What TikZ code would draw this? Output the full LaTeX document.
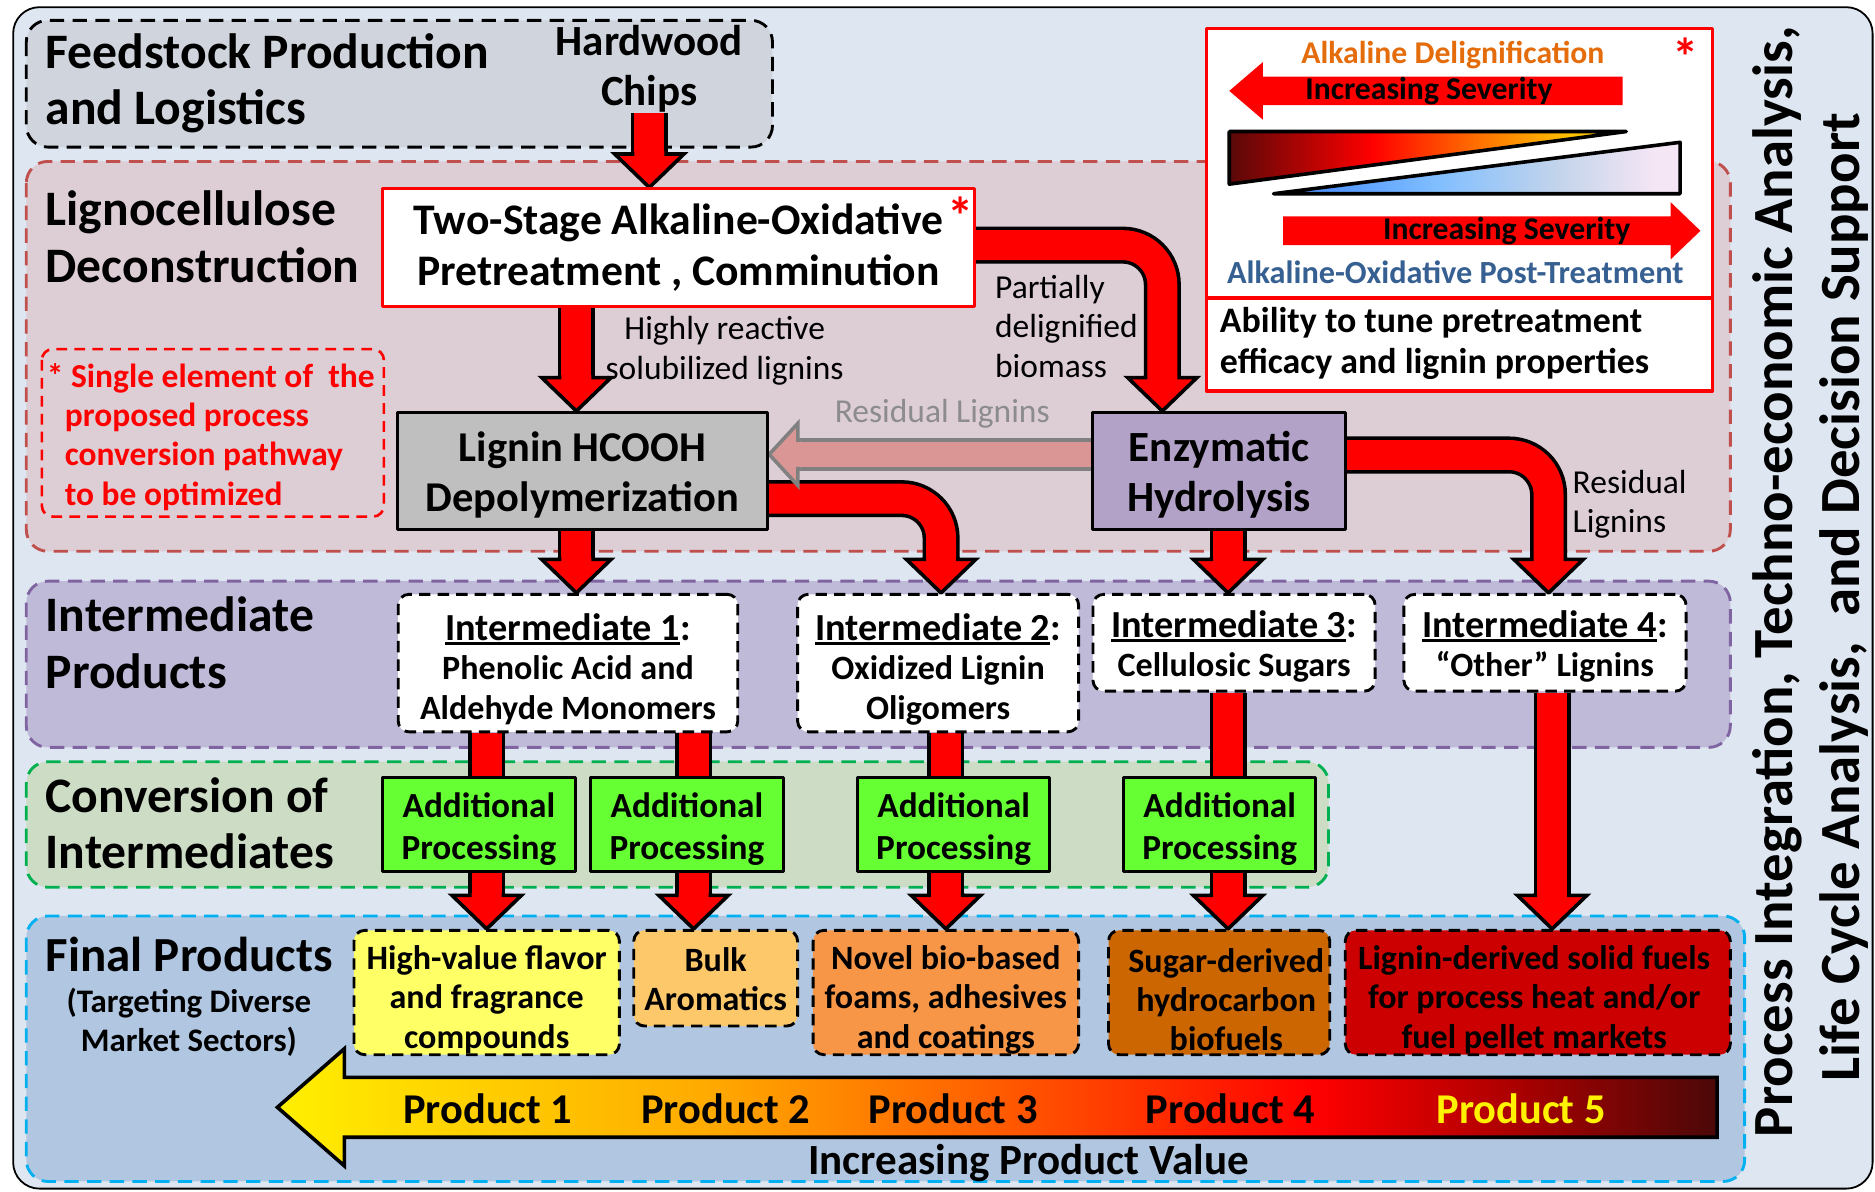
\documentclass[tikz,border=0pt]{standalone}
\usepackage{fontspec}
\setmainfont{Carlito}
\usetikzlibrary{calc}
\definecolor{bgc}{RGB}{222,231,241}
\definecolor{feedc}{RGB}{208,213,221}
\definecolor{lignc}{RGB}{221,205,213}
\definecolor{lignd}{RGB}{192,80,77}
\definecolor{intc}{RGB}{192,186,217}
\definecolor{intd}{RGB}{128,100,162}
\definecolor{convc}{RGB}{204,220,197}
\definecolor{convd}{RGB}{0,176,80}
\definecolor{finc}{RGB}{176,198,225}
\definecolor{find}{RGB}{0,176,240}
\definecolor{grayc}{RGB}{191,191,191}
\definecolor{purc}{RGB}{179,162,199}
\definecolor{apc}{RGB}{102,255,51}
\definecolor{pinkc}{RGB}{217,150,148}
\definecolor{grayd}{RGB}{128,128,128}
\definecolor{p1c}{RGB}{255,255,102}
\definecolor{p2c}{RGB}{252,200,106}
\definecolor{p3c}{RGB}{247,150,70}
\definecolor{p4c}{RGB}{204,102,0}
\definecolor{p5c}{RGB}{204,0,0}
\definecolor{orgt}{RGB}{228,108,10}
\definecolor{bluet}{RGB}{55,96,146}
\definecolor{labg}{RGB}{140,140,140}
% gradient colours
\definecolor{gY}{RGB}{255,240,0}
\definecolor{gY2}{RGB}{255,225,0}
\definecolor{gA}{RGB}{255,170,0}
\definecolor{gO}{RGB}{255,100,0}
\definecolor{gR}{RGB}{255,0,0}
\definecolor{gM}{RGB}{170,0,0}
\definecolor{gD}{RGB}{75,8,8}
\definecolor{tA}{RGB}{90,8,8}
\definecolor{tB}{RGB}{255,0,0}
\definecolor{tC}{RGB}{255,110,0}
\definecolor{tD}{RGB}{255,195,0}
\definecolor{uA}{RGB}{80,150,255}
\definecolor{uB}{RGB}{128,190,255}
\definecolor{uC}{RGB}{195,212,235}
\definecolor{uD}{RGB}{245,230,245}
\pgfdeclarehorizontalshading{prodgrad}{100bp}{color(0bp)=(gY); color(25bp)=(gY); color(28bp)=(gY2); color(40bp)=(gA); color(49bp)=(gO); color(61bp)=(gR); color(68bp)=(gM); color(75bp)=(gD); color(100bp)=(gD)}
\pgfdeclarehorizontalshading{trione}{100bp}{color(0bp)=(tA); color(25bp)=(tA); color(43bp)=(tB); color(56bp)=(tC); color(68bp)=(tD); color(100bp)=(tD)}
\pgfdeclarehorizontalshading{tritwo}{100bp}{color(0bp)=(uA); color(32bp)=(uA); color(45bp)=(uB); color(60bp)=(uC); color(72bp)=(uD); color(100bp)=(uD)}
\newcommand\fs[2]{\fontsize{#1pt}{#2pt}\selectfont}
\newsavebox\ulbox
\newcommand\ul[1]{\sbox\ulbox{#1}\rlap{\rule[-4pt]{\wd\ulbox}{2.2pt}}\usebox\ulbox}
\pgfdeclarelayer{back}
\pgfdeclarelayer{mid}
\pgfsetlayers{back,mid,main}
\tikzset{
 sec/.style={line width=2.4pt, dash pattern=on 12pt off 7pt, rounded corners=18pt},
 box/.style={draw=black, line width=2.5pt, align=center, inner sep=0pt},
 dbox/.style={draw=black, line width=2.4pt, dash pattern=on 9.5pt off 6pt, rounded corners=9pt, align=center, inner sep=0pt},
 tx/.style={align=center, inner sep=0pt},
 title/.style={anchor=west, align=left, inner sep=0pt, font=\fs{41.5}{47}\bfseries},
 lab/.style={align=center, inner sep=0pt, font=\fs{28}{33}},
 shaft/.style={draw=black, line width=3pt, double=red, double distance=25pt},
 head/.style={fill=red, draw=black, line width=3pt, line join=miter},
 prodlab/.style={inner sep=0pt, font=\fs{35.5}{40}\bfseries},
 aptext/.style={tx, font=\fs{29.5}{35}\bfseries},
 aptbox/.style={box, fill=apc, minimum width=161pt, minimum height=79pt},
 ptext/.style={tx, font=\fs{28.5}{33}\bfseries},
}
\newcommand\headat[1]{%
 \draw[head] ([shift={(-14pt,30pt)}]#1) -- ([shift={(-14pt,28pt)}]#1) -- ([shift={(-29pt,28pt)}]#1) -- (#1) -- ([shift={(29pt,28pt)}]#1) -- ([shift={(14pt,28pt)}]#1) -- ([shift={(14pt,30pt)}]#1);}
\newcommand\dnarrow[3]{%
 \path (#1,0 |- #3.north) coordinate (tip);
 \draw[shaft] (#1,0 |- #2.south) -- ([yshift=28pt]tip);
 \headat{tip}}
\newcommand\bararrow[3]{%
 \draw[shaft] (#1,0 |- #2.south) -- (#1,0 |- #3.north);}
\newcommand\curvarrow[4]{%
 \path (#3,0 |- #4.north) coordinate (tip);
 \draw[shaft, rounded corners=33pt] (#1.east |- 0,#2) -- (#3,#2) -- ([yshift=28pt]tip);
 \headat{tip}}
\begin{document}
\begin{tikzpicture}[x=1pt,y=-1pt,line join=round]
\useasboundingbox (0,0) rectangle (1568,996);
\begin{pgfonlayer}{back}
\fill[white] (0,0) rectangle (1568,996);
\draw[fill=bgc, line width=1.5pt, rounded corners=22pt] (11,6) rectangle (1566,994);
\draw[sec, fill=feedc, draw=black] (22,17) rectangle (646,123);
\draw[sec, fill=lignc, draw=lignd] (22,135) rectangle (1447,461);
\draw[sec, fill=intc, draw=intd] (22,486) rectangle (1447,625);
\draw[sec, fill=convc, draw=convd] (22,637) rectangle (1111,742);
\draw[sec, fill=finc, draw=find] (22,766) rectangle (1459,988);
\end{pgfonlayer}

% section titles
\node[title] (feedt) at (38,69.5) {Feedstock Production\\and Logistics};
\node[title] (lignt) at (38,198) {Lignocellulose\\Deconstruction};
\node[title] (intt) at (38,537.5) {Intermediate\\Products};
\node[title] (convt) at (38,688.5) {Conversion of\\Intermediates};
\node[title, font=\fs{41}{47}\bfseries] (fint) at (38,798) {Final Products};
\node[tx, font=\fs{27.5}{33}\bfseries] (fint2) at (158,855) {(Targeting Diverse\\Market Sectors)};

\node[tx, font=\fs{36}{42}\bfseries] (hw) at (543,57.5) {Hardwood\\Chips};

% legend
\draw[fill=white, draw=red, line width=3pt] (1009,24) rectangle (1432,327);
\draw[red, line width=3pt] (1009,249) -- (1432,249);
\node[text=orgt, font=\fs{26.5}{30}\bfseries, inner sep=0pt] (ad) at (1215,46) {Alkaline Delignification};
\node[text=red, font=\fs{44}{44}\bfseries, inner sep=0pt] (ast2) at (1410,47) {*};
\fill[red] (1357,64) -- (1056,64) -- (1056,52) -- (1028,76) -- (1056,100) -- (1056,88) -- (1357,88) -- cycle;
\node[font=\fs{26.5}{30}\bfseries, inner sep=0pt] (is1) at (1195,76) {Increasing Severity};
\shadedraw[shading=trione, line width=3pt] (1028,110) -- (1360,110) -- (1028,154) -- cycle;
\shadedraw[shading=tritwo, line width=3pt] (1065,162) -- (1405,162) -- (1405,119) -- cycle;
\fill[red] (1073,181) -- (1397,181) -- (1397,169) -- (1422,193) -- (1397,217) -- (1397,205) -- (1073,205) -- cycle;
\node[font=\fs{26.5}{30}\bfseries, inner sep=0pt] (is2) at (1260,193) {Increasing Severity};
\node[text=bluet, font=\fs{27}{30}\bfseries, inner sep=0pt] (aop) at (1217,228) {Alkaline-Oxidative Post-Treatment};
\node[anchor=west, align=left, inner sep=0pt, font=\fs{30}{34}\bfseries] (abil) at (1020,287) {Ability to tune pretreatment\\efficacy and lignin properties};

% single element note
\draw[red, line width=2.2pt, dash pattern=on 9pt off 6pt, rounded corners=9pt] (35,292) rectangle (321,432);
\node[anchor=north west, align=left, inner sep=0pt, text=red, font=\fs{28}{32.7}\bfseries] (single) at (39,304) {* Single element of\ \ the\\\hspace*{15pt}proposed process\\\hspace*{15pt}conversion pathway\\\hspace*{15pt}to be optimized};

% process boxes
\node[box, fill=white, draw=red, minimum width=495pt, minimum height=98pt, font=\fs{36.5}{42}\bfseries] (two) at (567.5,207) {Two-Stage Alkaline-Oxidative\\Pretreatment , Comminution};
\node[text=red, font=\fs{44}{44}\bfseries, inner sep=0pt] (ast1) at (803,180) {*};
\node[box, fill=grayc, minimum width=310pt, minimum height=98pt] (lig) at (487,394) {};
\node[tx, font=\fs{35.5}{42}\bfseries] (ligt) at ([yshift=-3pt]lig.center) {Lignin HCOOH\\Depolymerization};
\node[box, fill=purc, minimum width=211pt, minimum height=98pt] (enz) at (1019.5,394) {};
\node[tx, font=\fs{36}{42}\bfseries] (enzt) at ([yshift=-3pt]enz.center) {Enzymatic\\Hydrolysis};

\node[lab] (hr) at (606,293.5) {Highly reactive\\solubilized lignins};
\node[lab, align=left, anchor=west] (pd) at (832,273) {Partially\\delignified\\biomass};
\node[lab, text=labg] (rl) at (788,346) {Residual Lignins};
\node[lab, align=left, anchor=west] (rl2) at (1315,421.5) {Residual\\Lignins};

% intermediates
\node[dbox, fill=white, minimum width=284pt, minimum height=115pt] (i1) at (475,554.5) {};
\node[ptext] (i1t) at ([yshift=-5pt]i1.center) {{\fs{32}{33}\ul{Intermediate 1}:}\\Phenolic Acid and\\Aldehyde Monomers};
\node[dbox, fill=white, minimum width=235pt, minimum height=115pt] (i2) at (784.5,554.5) {};
\node[ptext] (i2t) at ([yshift=-5pt]i2.center) {{\fs{32}{33}\ul{Intermediate 2}:}\\Oxidized Lignin\\Oligomers};
\node[dbox, fill=white, minimum width=236pt, minimum height=81pt] (i3) at (1032,537.5) {};
\node[ptext] (i3t) at ([yshift=-3pt]i3.center) {{\fs{32}{33}\ul{Intermediate 3}:}\\Cellulosic Sugars};
\node[dbox, fill=white, minimum width=236pt, minimum height=81pt] (i4) at (1292,537.5) {};
\node[ptext] (i4t) at ([yshift=-3pt]i4.center) {{\fs{32}{33}\ul{Intermediate 4}:}\\“Other” Lignins};

% additional processing
\node[aptbox] (ap1) at (400.5,689.5) {};
\node[aptext] (ap1t) at ([yshift=-4pt]ap1.center) {Additional\\Processing};
\node[aptbox] (ap2) at (574.5,689.5) {};
\node[aptext] (ap2t) at ([yshift=-4pt]ap2.center) {Additional\\Processing};
\node[aptbox] (ap3) at (797.5,689.5) {};
\node[aptext] (ap3t) at ([yshift=-4pt]ap3.center) {Additional\\Processing};
\node[aptbox] (ap4) at (1020,689.5) {};
\node[aptext] (ap4t) at ([yshift=-4pt]ap4.center) {Additional\\Processing};

% final products
\node[dbox, fill=p1c, minimum width=222pt, minimum height=104pt] (p1) at (407,830) {};
\node[ptext] (p1t) at ([yshift=-6pt]p1.center) {High-value flavor\\and fragrance\\compounds};
\node[dbox, fill=p2c, minimum width=137pt, minimum height=80pt] (p2) at (598.5,818) {};
\node[ptext] (p2t) at ([yshift=-1pt]p2.center) {Bulk\\Aromatics};
\node[dbox, fill=p3c, minimum width=222pt, minimum height=104pt] (p3) at (791,830) {};
\node[ptext] (p3t) at ([yshift=-6pt]p3.center) {Novel bio-based\\foams, adhesives\\and coatings};
\node[dbox, fill=p4c, minimum width=185pt, minimum height=104pt] (p4) at (1019.5,830) {};
\node[ptext] (p4t) at ([shift={(6pt,-6pt)}]p4.center) {Sugar-derived\\hydrocarbon\\biofuels};
\node[dbox, fill=p5c, minimum width=322pt, minimum height=104pt] (p5) at (1286,830) {};
\node[ptext] (p5t) at ([shift={(-3pt,-6pt)}]p5.center) {Lignin-derived solid fuels\\for process heat and/or\\fuel pellet markets};

% value arrow
\shadedraw[shading=prodgrad, line width=3pt, line join=miter] (1436,901) -- (288,901) -- (288,877) -- (232,926) -- (288,975) -- (288,951) -- (1436,951) -- cycle;
\node[prodlab] (pr1) at (408,927) {Product 1};
\node[prodlab] (pr2) at (607,927) {Product 2};
\node[prodlab] (pr3) at (797,927) {Product 3};
\node[prodlab] (pr4) at (1029,927) {Product 4};
\node[prodlab, text=yellow] (pr5) at (1272,927) {Product 5};
\node[inner sep=0pt, font=\fs{36}{40}\bfseries] (ipv) at (860,973) {Increasing Product Value};

% side text
\node[rotate=90, anchor=base, inner sep=0pt, font=\fs{47.5}{50}\bfseries] (side1) at (1499,486.5) {Process Integration, Techno-economic Analysis,};
\node[rotate=90, anchor=base, inner sep=0pt, font=\fs{47.5}{50}\bfseries] (side2) at (1555,499.5) {Life Cycle Analysis,\ \ and Decision Support};

% connectors
\begin{pgfonlayer}{mid}
\dnarrow{543}{hw}{two}
\dnarrow{482}{two}{lig}
\curvarrow{two}{205}{972}{enz}
\dnarrow{482}{lig}{i1}
\curvarrow{lig}{417}{787}{i2}
\dnarrow{1027}{enz}{i3}
\curvarrow{enz}{380.5}{1295}{i4}
\path (lig.east |- 0,380) coordinate (rtip);
\draw[draw=grayd, line width=3pt, double=pinkc, double distance=21pt] (enz.west |- 0,380) -- ([xshift=24pt]rtip);
\draw[fill=pinkc, draw=grayd, line width=3pt, line join=miter] ([shift={(26pt,12pt)}]rtip) -- ([shift={(24pt,12pt)}]rtip) -- ([shift={(24pt,26pt)}]rtip) -- (rtip) -- ([shift={(24pt,-26pt)}]rtip) -- ([shift={(24pt,-12pt)}]rtip) -- ([shift={(26pt,-12pt)}]rtip);
\bararrow{407}{i1}{ap1}
\bararrow{580}{i1}{ap2}
\bararrow{791}{i2}{ap3}
\bararrow{1027}{i3}{ap4}
\dnarrow{407}{ap1}{p1}
\dnarrow{580}{ap2}{p2}
\dnarrow{791}{ap3}{p3}
\dnarrow{1027}{ap4}{p4}
\dnarrow{1298}{i4}{p5}
\end{pgfonlayer}
\end{tikzpicture}
\end{document}
